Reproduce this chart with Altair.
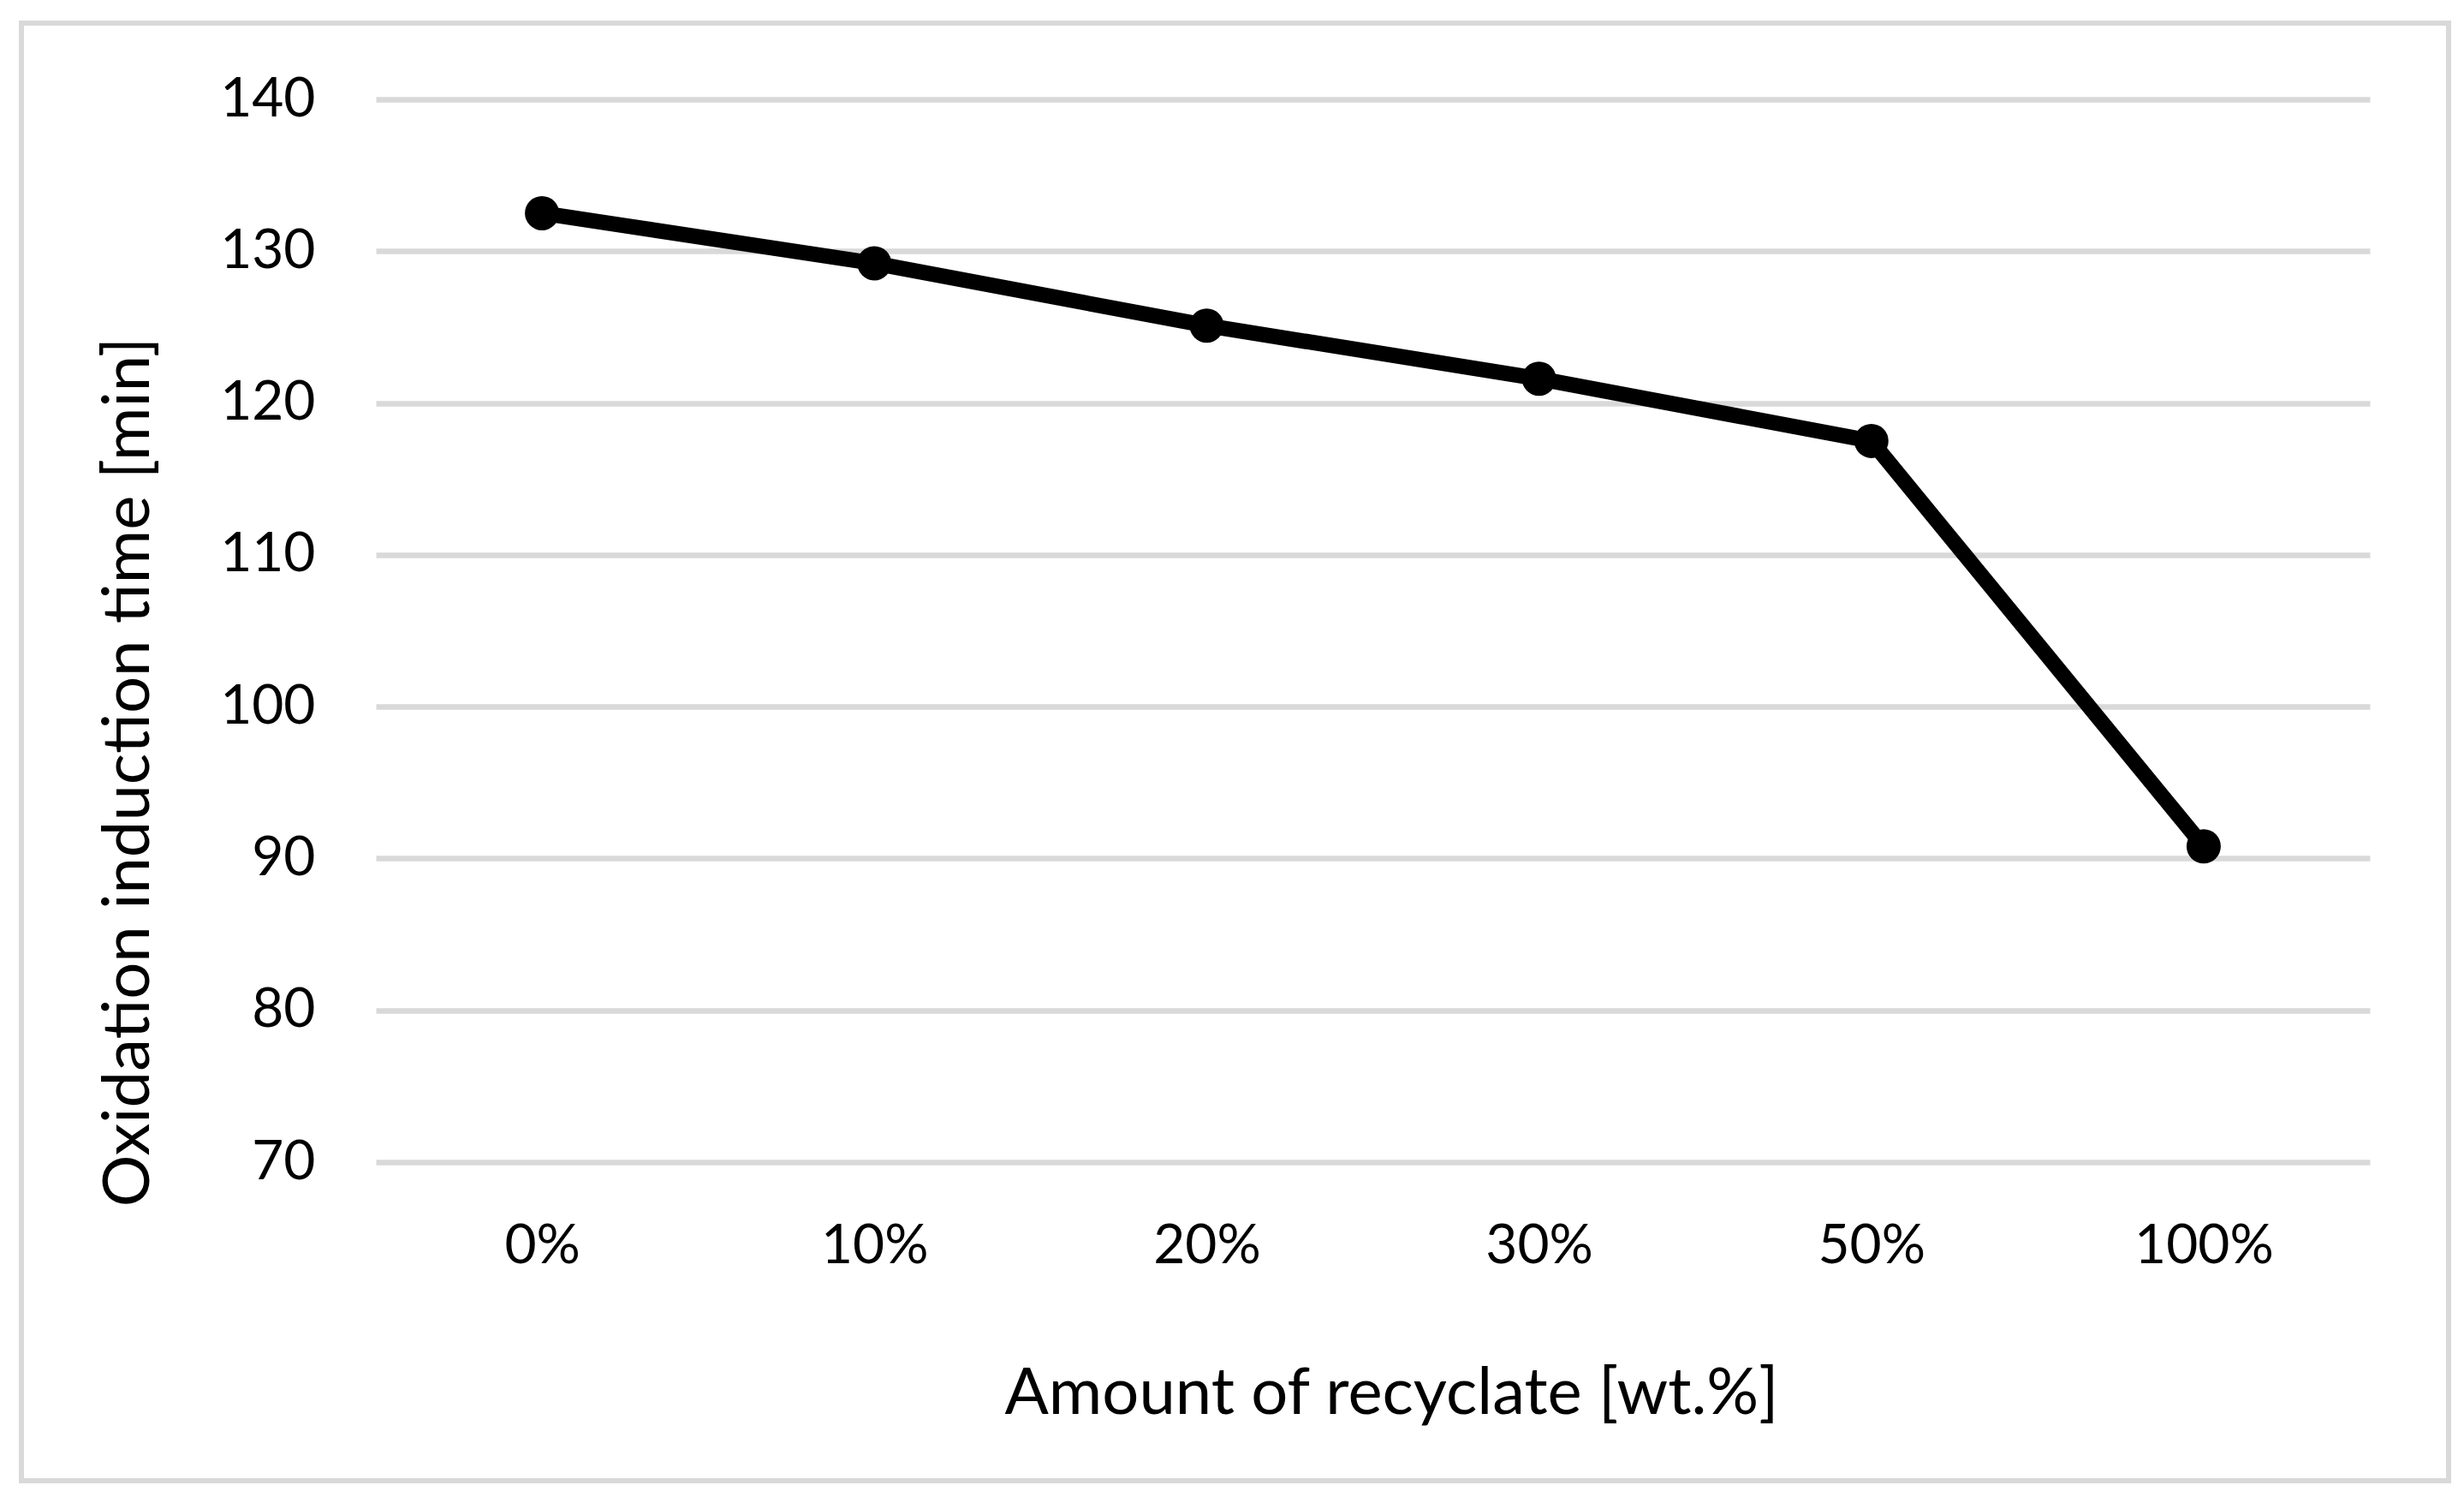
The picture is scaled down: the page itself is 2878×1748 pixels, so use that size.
import altair as alt
import pandas as pd

# Data
categories = ["0%", "10%", "20%", "30%", "50%", "100%"]
oit_minutes = [132.5, 129.2, 125.1, 121.6, 117.5, 90.8]
y_ticks = [70, 80, 90, 100, 110, 120, 130, 140]

df = pd.DataFrame({"cat": categories, "oit": oit_minutes})
frame_df = pd.DataFrame({"frame": [0]})

FONT = "Lato"
GRID = "#D9D9D9"

x_enc = alt.X(
    "cat:N",
    sort=categories,
    scale=alt.Scale(paddingInner=0, paddingOuter=0),
    axis=alt.Axis(
        title="Amount of recyclate [wt.%]",
        labelAngle=0,
        ticks=False,
        tickSize=0,
        domain=False,
        grid=False,
        labelPadding=66,
        labelFont=FONT,
        labelFontSize=64,
        labelColor="black",
        titleFont=FONT,
        titleFontSize=76,
        titleFontWeight="normal",
        titleColor="black",
        titleX=1186,
        titleY=293,
        titleBaseline="alphabetic",
        titleAlign="center",
    ),
)

y_enc = alt.Y(
    "oit:Q",
    scale=alt.Scale(domain=[70, 140], nice=False, zero=False),
    axis=alt.Axis(
        title="Oxidation induction time [min]",
        values=y_ticks,
        ticks=False,
        tickSize=0,
        domain=False,
        grid=True,
        gridColor=GRID,
        gridWidth=6.5,
        labelPadding=71,
        labelFont=FONT,
        labelFontSize=64,
        labelColor="black",
        titleFont=FONT,
        titleFontSize=76,
        titleFontWeight="normal",
        titleColor="black",
        titleX=-266,
        titleY=785,
        titleBaseline="alphabetic",
        titleAlign="center",
    ),
)

base = alt.Chart(df).encode(x=x_enc, y=y_enc)

line = base.mark_line(color="black", strokeWidth=18)
points = base.mark_circle(color="black", size=1600, opacity=1)

frame = alt.Chart(frame_df).mark_rect(
    filled=False, stroke=GRID, strokeWidth=6
).encode(
    x=alt.value(-414), x2=alt.value(2421), y=alt.value(-89), y2=alt.value(1613)
)

chart = (
    alt.layer(frame, line, points)
    .properties(
        width=2329,
        height=1241,
        autosize=alt.AutoSizeParams(type="none"),
        padding={"left": 431, "top": 108, "right": 100, "bottom": 380},
        background="white",
    )
    .configure_view(strokeWidth=0)
)

chart.save("out.html", embed_options={"renderer": "svg", "actions": False})
